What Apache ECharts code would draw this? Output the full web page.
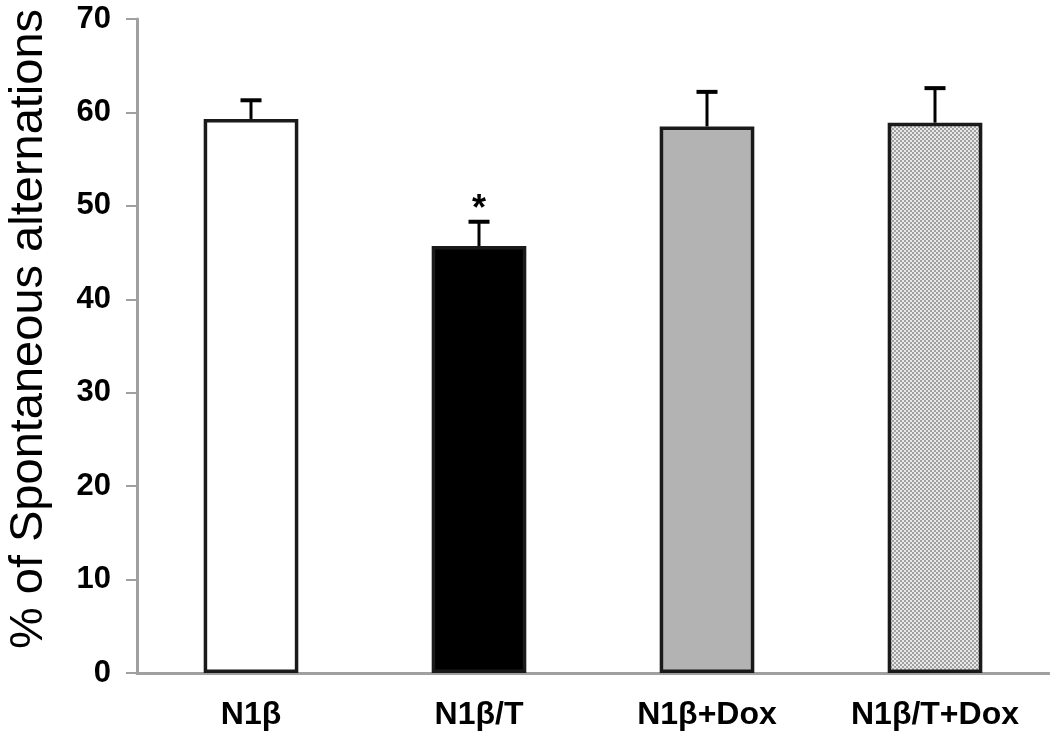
<!DOCTYPE html>
<html><head><meta charset="utf-8">
<script src="https://cdn.jsdelivr.net/npm/echarts@6/dist/echarts.min.js"></script>
<style>html,body{margin:0;padding:0;background:#fff}#c{width:1050px;height:739px}</style>
</head><body><div id="c"></div>
<script>
const categories = ['N1β', 'N1β/T', 'N1β+Dox', 'N1β/T+Dox'];
const means = [59.3, 45.7, 58.5, 58.9];
const errors = [2.0, 2.6, 3.7, 3.7];
const marks = ['', '*', '', ''];
const yTicks = [0, 10, 20, 30, 40, 50, 60, 70];

// fine checker pattern for the last bar
const pc = document.createElement('canvas');
pc.width = 4; pc.height = 4;
const px = pc.getContext('2d');
px.fillStyle = '#e8e8e8'; px.fillRect(0, 0, 4, 4);
px.fillStyle = '#a0a0a0';
px.fillRect(0, 0, 2, 2); px.fillRect(2, 2, 2, 2);
const fills = ['#ffffff', '#000000', '#b3b3b3', { image: pc, repeat: 'repeat' }];

const chart = echarts.init(document.getElementById('c'));
chart.setOption({
  animation: false,
  backgroundColor: '#fff',
  grid: { left: 137, right: 1, top: 19, bottom: 66, outerBoundsMode: 'none', containLabel: false },
  xAxis: {
    type: 'category',
    data: categories,
    axisLine: { lineStyle: { color: '#a0a0a0', width: 3 } },
    axisTick: { show: false },
    axisLabel: { margin: 26, color: '#000', fontWeight: 'bold', fontSize: 32, fontFamily: 'Liberation Sans' }
  },
  yAxis: {
    type: 'value',
    min: yTicks[0], max: yTicks[yTicks.length - 1], interval: 10,
    name: '% of Spontaneous alternations',
    nameLocation: 'middle',
    nameGap: 84,
    nameTextStyle: { fontSize: 47, color: '#000', fontFamily: 'Liberation Sans', padding: [0, 0, 0, 34] },
    axisLine: { show: true, lineStyle: { color: '#a0a0a0', width: 3 } },
    axisTick: { show: true, length: 11, lineStyle: { color: '#a0a0a0', width: 2 } },
    axisLabel: { margin: 26, color: '#000', fontWeight: 'bold', fontSize: 31, fontFamily: 'Liberation Sans' },
    splitLine: { show: false }
  },
  series: [
    {
      type: 'bar',
      barWidth: '41.5%',
      data: means.map((v, i) => ({ value: v, itemStyle: { color: fills[i] } })),
      itemStyle: { borderColor: '#1a1a1a', borderWidth: 3.5 },
      z: 2
    },
    {
      type: 'custom',
      data: means.map((v, i) => [i, v, errors[i]]),
      z: 3,
      renderItem: function (params, api) {
        const i = api.value(0);
        const base = api.coord([i, api.value(1)]);
        const top = api.coord([i, api.value(1) + api.value(2)]);
        const half = 10.5;
        const children = [
          { type: 'line', shape: { x1: base[0], y1: base[1], x2: top[0], y2: top[1] }, style: { stroke: '#000', lineWidth: 3 } },
          { type: 'line', shape: { x1: top[0] - half, y1: top[1], x2: top[0] + half, y2: top[1] }, style: { stroke: '#000', lineWidth: 4 } }
        ];
        if (marks[i]) {
          children.push({ type: 'text', x: top[0], y: top[1] + 6, style: { text: marks[i], fill: '#000', font: 'bold 36px Liberation Sans', align: 'center', verticalAlign: 'bottom' } });
        }
        return { type: 'group', children: children };
      }
    }
  ]
});
</script></body></html>
